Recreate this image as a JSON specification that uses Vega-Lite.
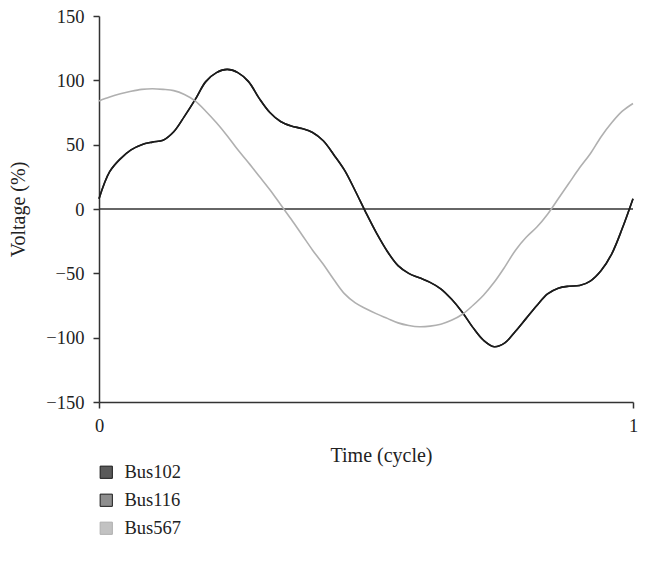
{
  "$schema": "https://vega.github.io/schema/vega-lite/v6.json",
  "width": 534,
  "height": 386,
  "autosize": {"type": "none"},
  "padding": {"left": 99, "top": 16, "right": 12, "bottom": 181},
  "background": "white",
  "config": {
    "view": {"stroke": null},
    "font": "Liberation Serif",
    "axis": {
      "grid": false,
      "domainColor": "#333333",
      "domainWidth": 1.5,
      "tickColor": "#333333",
      "tickWidth": 1.5,
      "tickSize": 6,
      "labelFont": "Liberation Serif",
      "labelFontSize": 18.5,
      "labelColor": "#222222",
      "titleFont": "Liberation Serif",
      "titleFontSize": 20,
      "titleFontWeight": "normal",
      "titleColor": "#222222"
    },
    "legend": {
      "labelFont": "Liberation Serif",
      "labelFontSize": 18.5,
      "labelColor": "#222222"
    }
  },
  "datasets": {
    "waves": [
      {"t": 0.00, "bus": "Bus102", "v": 8},
      {"t": 0.02, "bus": "Bus102", "v": 29},
      {"t": 0.04, "bus": "Bus102", "v": 39},
      {"t": 0.06, "bus": "Bus102", "v": 46},
      {"t": 0.08, "bus": "Bus102", "v": 50},
      {"t": 0.10, "bus": "Bus102", "v": 52},
      {"t": 0.12, "bus": "Bus102", "v": 53.5},
      {"t": 0.14, "bus": "Bus102", "v": 60},
      {"t": 0.16, "bus": "Bus102", "v": 72},
      {"t": 0.18, "bus": "Bus102", "v": 85},
      {"t": 0.20, "bus": "Bus102", "v": 99},
      {"t": 0.22, "bus": "Bus102", "v": 106},
      {"t": 0.24, "bus": "Bus102", "v": 108.5},
      {"t": 0.26, "bus": "Bus102", "v": 106},
      {"t": 0.28, "bus": "Bus102", "v": 99},
      {"t": 0.30, "bus": "Bus102", "v": 86},
      {"t": 0.32, "bus": "Bus102", "v": 75},
      {"t": 0.34, "bus": "Bus102", "v": 68},
      {"t": 0.36, "bus": "Bus102", "v": 64.5},
      {"t": 0.38, "bus": "Bus102", "v": 62.5},
      {"t": 0.40, "bus": "Bus102", "v": 59.5},
      {"t": 0.42, "bus": "Bus102", "v": 53},
      {"t": 0.44, "bus": "Bus102", "v": 42},
      {"t": 0.46, "bus": "Bus102", "v": 30},
      {"t": 0.48, "bus": "Bus102", "v": 14},
      {"t": 0.50, "bus": "Bus102", "v": -3},
      {"t": 0.52, "bus": "Bus102", "v": -19},
      {"t": 0.54, "bus": "Bus102", "v": -33},
      {"t": 0.56, "bus": "Bus102", "v": -44},
      {"t": 0.58, "bus": "Bus102", "v": -50},
      {"t": 0.60, "bus": "Bus102", "v": -53.5},
      {"t": 0.62, "bus": "Bus102", "v": -57},
      {"t": 0.64, "bus": "Bus102", "v": -62},
      {"t": 0.66, "bus": "Bus102", "v": -70},
      {"t": 0.68, "bus": "Bus102", "v": -80},
      {"t": 0.70, "bus": "Bus102", "v": -92},
      {"t": 0.72, "bus": "Bus102", "v": -102},
      {"t": 0.74, "bus": "Bus102", "v": -107},
      {"t": 0.76, "bus": "Bus102", "v": -104},
      {"t": 0.78, "bus": "Bus102", "v": -95},
      {"t": 0.80, "bus": "Bus102", "v": -85},
      {"t": 0.82, "bus": "Bus102", "v": -75},
      {"t": 0.84, "bus": "Bus102", "v": -66},
      {"t": 0.86, "bus": "Bus102", "v": -61.5},
      {"t": 0.88, "bus": "Bus102", "v": -60},
      {"t": 0.90, "bus": "Bus102", "v": -59.5},
      {"t": 0.92, "bus": "Bus102", "v": -56},
      {"t": 0.94, "bus": "Bus102", "v": -48},
      {"t": 0.96, "bus": "Bus102", "v": -35},
      {"t": 0.98, "bus": "Bus102", "v": -15},
      {"t": 1.00, "bus": "Bus102", "v": 8},

      {"t": 0.00, "bus": "Bus116", "v": 8},
      {"t": 0.02, "bus": "Bus116", "v": 29},
      {"t": 0.04, "bus": "Bus116", "v": 39},
      {"t": 0.06, "bus": "Bus116", "v": 46},
      {"t": 0.08, "bus": "Bus116", "v": 50},
      {"t": 0.10, "bus": "Bus116", "v": 52},
      {"t": 0.12, "bus": "Bus116", "v": 53.5},
      {"t": 0.14, "bus": "Bus116", "v": 60},
      {"t": 0.16, "bus": "Bus116", "v": 72},
      {"t": 0.18, "bus": "Bus116", "v": 85},
      {"t": 0.20, "bus": "Bus116", "v": 99},
      {"t": 0.22, "bus": "Bus116", "v": 106},
      {"t": 0.24, "bus": "Bus116", "v": 108.5},
      {"t": 0.26, "bus": "Bus116", "v": 106},
      {"t": 0.28, "bus": "Bus116", "v": 99},
      {"t": 0.30, "bus": "Bus116", "v": 86},
      {"t": 0.32, "bus": "Bus116", "v": 75},
      {"t": 0.34, "bus": "Bus116", "v": 68},
      {"t": 0.36, "bus": "Bus116", "v": 64.5},
      {"t": 0.38, "bus": "Bus116", "v": 62.5},
      {"t": 0.40, "bus": "Bus116", "v": 59.5},
      {"t": 0.42, "bus": "Bus116", "v": 53},
      {"t": 0.44, "bus": "Bus116", "v": 42},
      {"t": 0.46, "bus": "Bus116", "v": 30},
      {"t": 0.48, "bus": "Bus116", "v": 14},
      {"t": 0.50, "bus": "Bus116", "v": -3},
      {"t": 0.52, "bus": "Bus116", "v": -19},
      {"t": 0.54, "bus": "Bus116", "v": -33},
      {"t": 0.56, "bus": "Bus116", "v": -44},
      {"t": 0.58, "bus": "Bus116", "v": -50},
      {"t": 0.60, "bus": "Bus116", "v": -53.5},
      {"t": 0.62, "bus": "Bus116", "v": -57},
      {"t": 0.64, "bus": "Bus116", "v": -62},
      {"t": 0.66, "bus": "Bus116", "v": -70},
      {"t": 0.68, "bus": "Bus116", "v": -80},
      {"t": 0.70, "bus": "Bus116", "v": -92},
      {"t": 0.72, "bus": "Bus116", "v": -102},
      {"t": 0.74, "bus": "Bus116", "v": -107},
      {"t": 0.76, "bus": "Bus116", "v": -104},
      {"t": 0.78, "bus": "Bus116", "v": -95},
      {"t": 0.80, "bus": "Bus116", "v": -85},
      {"t": 0.82, "bus": "Bus116", "v": -75},
      {"t": 0.84, "bus": "Bus116", "v": -66},
      {"t": 0.86, "bus": "Bus116", "v": -61.5},
      {"t": 0.88, "bus": "Bus116", "v": -60},
      {"t": 0.90, "bus": "Bus116", "v": -59.5},
      {"t": 0.92, "bus": "Bus116", "v": -56},
      {"t": 0.94, "bus": "Bus116", "v": -48},
      {"t": 0.96, "bus": "Bus116", "v": -35},
      {"t": 0.98, "bus": "Bus116", "v": -15},
      {"t": 1.00, "bus": "Bus116", "v": 8},

      {"t": 0.00, "bus": "Bus567", "v": 84},
      {"t": 0.02, "bus": "Bus567", "v": 87},
      {"t": 0.04, "bus": "Bus567", "v": 89.5},
      {"t": 0.06, "bus": "Bus567", "v": 91.5},
      {"t": 0.08, "bus": "Bus567", "v": 93},
      {"t": 0.10, "bus": "Bus567", "v": 93.5},
      {"t": 0.12, "bus": "Bus567", "v": 93},
      {"t": 0.14, "bus": "Bus567", "v": 92},
      {"t": 0.16, "bus": "Bus567", "v": 89},
      {"t": 0.18, "bus": "Bus567", "v": 84},
      {"t": 0.20, "bus": "Bus567", "v": 76},
      {"t": 0.22, "bus": "Bus567", "v": 67},
      {"t": 0.24, "bus": "Bus567", "v": 57},
      {"t": 0.26, "bus": "Bus567", "v": 46},
      {"t": 0.28, "bus": "Bus567", "v": 36},
      {"t": 0.30, "bus": "Bus567", "v": 25.5},
      {"t": 0.32, "bus": "Bus567", "v": 15},
      {"t": 0.34, "bus": "Bus567", "v": 3.5},
      {"t": 0.36, "bus": "Bus567", "v": -8},
      {"t": 0.38, "bus": "Bus567", "v": -20},
      {"t": 0.40, "bus": "Bus567", "v": -32},
      {"t": 0.42, "bus": "Bus567", "v": -43},
      {"t": 0.44, "bus": "Bus567", "v": -55},
      {"t": 0.46, "bus": "Bus567", "v": -66},
      {"t": 0.48, "bus": "Bus567", "v": -73},
      {"t": 0.50, "bus": "Bus567", "v": -77.5},
      {"t": 0.52, "bus": "Bus567", "v": -81.5},
      {"t": 0.54, "bus": "Bus567", "v": -85},
      {"t": 0.56, "bus": "Bus567", "v": -88.5},
      {"t": 0.58, "bus": "Bus567", "v": -90.5},
      {"t": 0.60, "bus": "Bus567", "v": -91.5},
      {"t": 0.62, "bus": "Bus567", "v": -91},
      {"t": 0.64, "bus": "Bus567", "v": -89.5},
      {"t": 0.66, "bus": "Bus567", "v": -86.5},
      {"t": 0.68, "bus": "Bus567", "v": -82},
      {"t": 0.70, "bus": "Bus567", "v": -75},
      {"t": 0.72, "bus": "Bus567", "v": -67},
      {"t": 0.74, "bus": "Bus567", "v": -57},
      {"t": 0.76, "bus": "Bus567", "v": -45},
      {"t": 0.78, "bus": "Bus567", "v": -32},
      {"t": 0.80, "bus": "Bus567", "v": -22},
      {"t": 0.82, "bus": "Bus567", "v": -14},
      {"t": 0.84, "bus": "Bus567", "v": -4},
      {"t": 0.86, "bus": "Bus567", "v": 8},
      {"t": 0.88, "bus": "Bus567", "v": 20},
      {"t": 0.90, "bus": "Bus567", "v": 32},
      {"t": 0.92, "bus": "Bus567", "v": 43},
      {"t": 0.94, "bus": "Bus567", "v": 56},
      {"t": 0.96, "bus": "Bus567", "v": 67},
      {"t": 0.98, "bus": "Bus567", "v": 76},
      {"t": 1.00, "bus": "Bus567", "v": 82}
    ],
    "zero": [{"level": 0}]
  },
  "layer": [
    {
      "data": {"name": "zero"},
      "mark": {"type": "rule", "color": "#333333", "strokeWidth": 1.5},
      "encoding": {
        "y": {"field": "level", "type": "quantitative", "scale": {"domain": [-150, 150]}}
      }
    },
    {
      "data": {"name": "waves"},
      "mark": {"type": "line", "interpolate": "catmull-rom", "strokeWidth": 1.6},
      "encoding": {
        "x": {
          "field": "t",
          "type": "quantitative",
          "title": "Time (cycle)",
          "scale": {"domain": [0, 1], "nice": false},
          "axis": {"values": [0, 1], "format": "d", "labelFlush": false, "labelPadding": 8, "titlePadding": 11, "titleX": 282}
        },
        "y": {
          "field": "v",
          "type": "quantitative",
          "title": "Voltage (%)",
          "scale": {"domain": [-150, 150], "nice": false},
          "axis": {"values": [-150, -100, -50, 0, 50, 100, 150], "labelPadding": 9, "titlePadding": 17}
        },
        "color": {
          "field": "bus",
          "type": "nominal",
          "title": null,
          "scale": {"domain": ["Bus102", "Bus116", "Bus567"], "range": ["#1c1c1c", "#1c1c1c", "#b0b0b0"]},
          "legend": {
            "orient": "none",
            "legendX": -2,
            "legendY": 447,
            "symbolType": "square",
            "symbolSize": 150,
            "rowPadding": 9,
            "labelOffset": 9,
            "encode": {
              "symbols": {
                "update": {
                  "fill": {"signal": "datum.value === 'Bus102' ? '#5a5a5a' : datum.value === 'Bus116' ? '#8e8e8e' : '#c2c2c2'"},
                  "stroke": {"value": "#333333"},
                  "strokeWidth": {"value": 1},
                  "opacity": {"value": 1}
                }
              }
            }
          }
        }
      }
    }
  ]
}
